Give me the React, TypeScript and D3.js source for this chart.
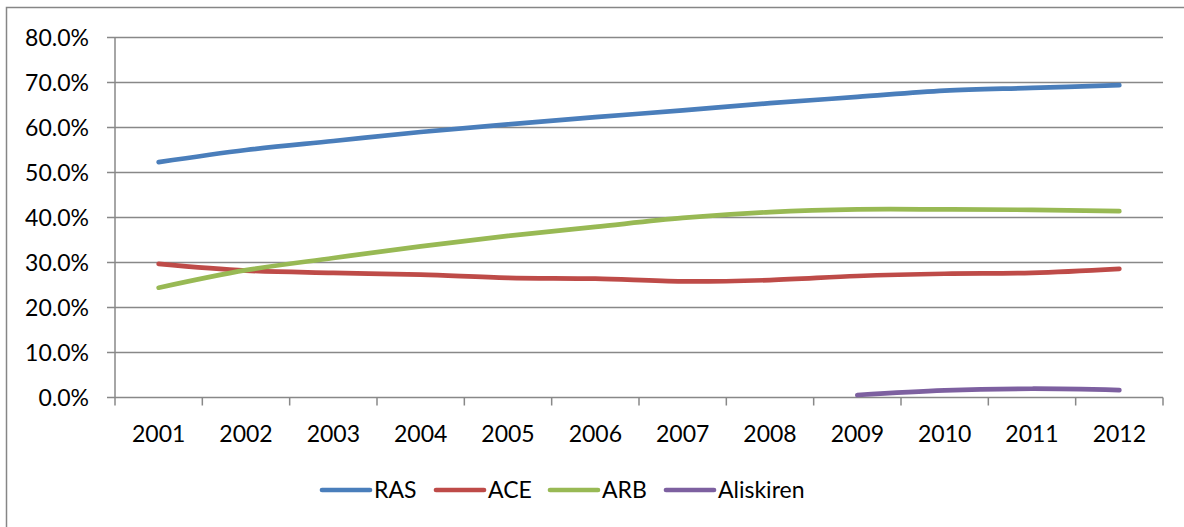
import React from "react";
import * as d3 from "d3";

const years = ["2001","2002","2003","2004","2005","2006","2007","2008","2009","2010","2011","2012"];
const rasValues = [52.3, 55.0, 57.0, 59.0, 60.7, 62.3, 63.8, 65.4, 66.8, 68.2, 68.8, 69.4];
const aceValues = [29.7, 28.2, 27.7, 27.3, 26.6, 26.4, 25.8, 26.1, 27.0, 27.5, 27.7, 28.6];
const arbValues = [24.4, 28.3, 31.0, 33.6, 35.9, 37.9, 39.9, 41.2, 41.8, 41.8, 41.7, 41.4];
const aliskirenValues: (number | null)[] = [null, null, null, null, null, null, null, null, 0.55, 1.6, 1.95, 1.65];
const yTicks = [0, 10, 20, 30, 40, 50, 60, 70, 80];

const seriesNames = ["RAS", "ACE", "ARB", "Aliskiren"];
const seriesColors = ["#4A7EBB", "#BE4B48", "#98B954", "#7D60A0"];

export default function App() {
  const W = 1184, H = 527;
  const left = 115, right = 1163, top = 37.5, bottom = 397.5;
  const font = "Lato, 'Open Sans', sans-serif";
  const fs = 23;
  const x = d3.scaleBand().domain(years).range([left, right]);
  const y = d3.scaleLinear().domain([0, 80]).range([bottom, top]);
  const all = [rasValues, aceValues, arbValues, aliskirenValues];
  const line = d3
    .line<number | null>()
    .defined((d) => d !== null)
    .x((_, i) => (x(years[i]) as number) + x.bandwidth() / 2)
    .y((d) => y(d as number))
    .curve(d3.curveCardinal.tension(0));
  const legendX = [322, 436, 550, 666];
  const legendY = 490;
  return (
    <svg width={W} height={H} style={{ position: "absolute", left: 0, top: 0 }}>
      <rect x={6.5} y={7.5} width={W + 10} height={H + 10} fill="white" stroke="#868686" strokeWidth={1.5} />
      {yTicks.map((t) => (
        <g key={t}>
          <line x1={left - 8} x2={right} y1={y(t)} y2={y(t)} stroke="#888" strokeWidth={1.5} />
          <text x={89} y={y(t)} dy="0.35em" textAnchor="end" fontFamily={font} fontSize={fs} fill="#000">
            {t.toFixed(1)}%
          </text>
        </g>
      ))}
      <line x1={left} x2={left} y1={top} y2={bottom + 8} stroke="#888" strokeWidth={1.5} />
      {years.map((yr) => (
        <g key={yr}>
          <line x1={(x(yr) as number) + x.bandwidth()} x2={(x(yr) as number) + x.bandwidth()} y1={bottom} y2={bottom + 8} stroke="#888" strokeWidth={1.5} />
          <text x={(x(yr) as number) + x.bandwidth() / 2} y={434} dy="0.35em" textAnchor="middle" fontFamily={font} fontSize={fs} fill="#000">
            {yr}
          </text>
        </g>
      ))}
      {all.map((vals, i) => (
        <path key={i} d={line(vals) || ""} fill="none" stroke={seriesColors[i]} strokeWidth={4.7} strokeLinecap="round" strokeLinejoin="round" />
      ))}
      {seriesNames.map((n, i) => (
        <g key={n}>
          <line x1={legendX[i]} x2={legendX[i] + 48} y1={legendY} y2={legendY} stroke={seriesColors[i]} strokeWidth={4.7} strokeLinecap="round" />
          <text x={legendX[i] + 52} y={legendY} dy="0.35em" fontFamily={font} fontSize={fs} fill="#000">
            {n}
          </text>
        </g>
      ))}
    </svg>
  );
}
